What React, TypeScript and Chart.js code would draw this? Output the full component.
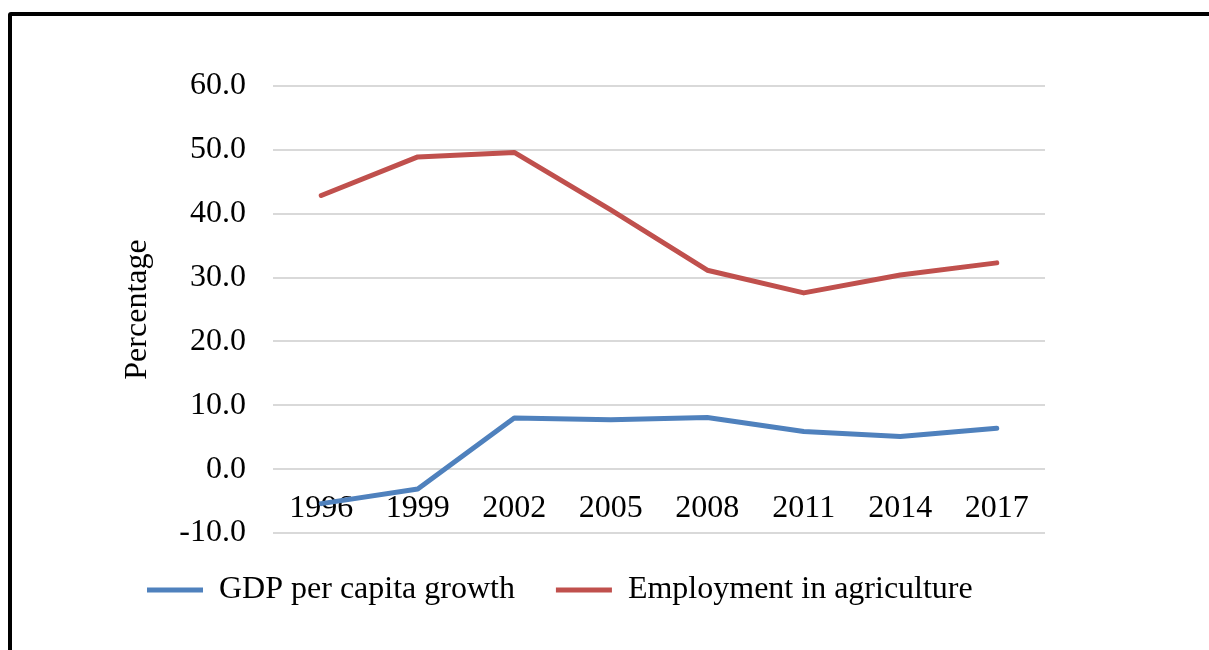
import React, { useEffect, useRef } from "react";
import { Chart, registerables } from "chart.js";

Chart.register(...registerables);

const years = ["1996", "1999", "2002", "2005", "2008", "2011", "2014", "2017"];
const gdpGrowth = [-5.4, -3.1, 8.0, 7.75, 8.1, 5.9, 5.1, 6.4];
const agricultureEmployment = [42.85, 48.9, 49.6, 40.6, 31.15, 27.6, 30.4, 32.3];
const seriesNames = ["GDP per capita growth", "Employment in agriculture"];
const yAxisTitle = "Percentage";

const FONT = "'Liberation Serif', 'Times New Roman', serif";

export default function App() {
  const canvasRef = useRef<HTMLCanvasElement | null>(null);

  useEffect(() => {
    const prevOverflow = document.body.style.overflow;
    document.body.style.overflow = "hidden";
    const canvas = canvasRef.current;
    if (!canvas) return;
    const chart = new Chart(canvas, {
      type: "line",
      data: {
        labels: years,
        datasets: [
          {
            label: seriesNames[0],
            data: gdpGrowth,
            borderColor: "#4f81bd",
            backgroundColor: "#4f81bd",
            borderWidth: 5,
            pointRadius: 0,
            pointHoverRadius: 0,
            borderCapStyle: "round",
            borderJoinStyle: "round",
            tension: 0,
            fill: false,
          },
          {
            label: seriesNames[1],
            data: agricultureEmployment,
            borderColor: "#c0504d",
            backgroundColor: "#c0504d",
            borderWidth: 5,
            pointRadius: 0,
            pointHoverRadius: 0,
            borderCapStyle: "round",
            borderJoinStyle: "round",
            tension: 0,
            fill: false,
          },
        ],
      },
      options: {
        animation: false,
        responsive: false,
        maintainAspectRatio: false,
        devicePixelRatio: 1,
        layout: {
          padding: { left: 106, right: 164, top: 86, bottom: 34 },
        },
        plugins: {
          tooltip: { enabled: false },
          legend: {
            display: true,
            position: "bottom",
            align: "start",
            labels: {
              boxWidth: 56,
              boxHeight: 5,
              padding: 41,
              color: "#000",
              font: { family: FONT, size: 32 },
              generateLabels: (c: any) =>
                c.data.datasets.map((ds: any, i: number) => ({
                  text: ds.label,
                  fillStyle: ds.borderColor,
                  strokeStyle: ds.borderColor,
                  lineWidth: 0,
                  hidden: false,
                  datasetIndex: i,
                })),
            },
          },
        },
        scales: {
          x: {
            type: "category",
            position: { y: 0 } as any,
            offset: true,
            grid: { display: false, drawTicks: false },
            border: { display: false },
            ticks: {
              color: "#000",
              font: { family: FONT, size: 32 },
              padding: 20,
              maxRotation: 0,
              autoSkip: false,
            },
          },
          y: {
            min: -10,
            max: 60,
            grid: { color: "#d9d9d9", lineWidth: 2, drawTicks: false },
            border: { display: false },
            ticks: {
              stepSize: 10,
              color: "#000",
              font: { family: FONT, size: 32 },
              padding: 27,
              callback: (v: any) => Number(v).toFixed(1),
            },
            title: {
              display: true,
              text: yAxisTitle,
              color: "#000",
              font: { family: FONT, size: 32 },
              padding: { top: 12, bottom: 0 },
            },
            afterFit: (scale: any) => {
              scale.width = 167;
            },
          },
        },
      },
    });
    return () => {
      chart.destroy();
      document.body.style.overflow = prevOverflow;
    };
  }, []);

  return (
    <div
      style={{
        position: "fixed",
        left: 0,
        top: 0,
        width: 1209,
        height: 650,
        overflow: "hidden",
        background: "#fff",
      }}
    >
      <div
        style={{
          position: "absolute",
          left: 8,
          top: 12,
          width: 1400,
          height: 800,
          border: "4px solid #000",
          borderRadius: 3,
          boxSizing: "border-box",
        }}
      />
      <canvas
        ref={canvasRef}
        width={1209}
        height={650}
        style={{ position: "absolute", left: 0, top: 0, width: 1209, height: 650 }}
      />
    </div>
  );
}
